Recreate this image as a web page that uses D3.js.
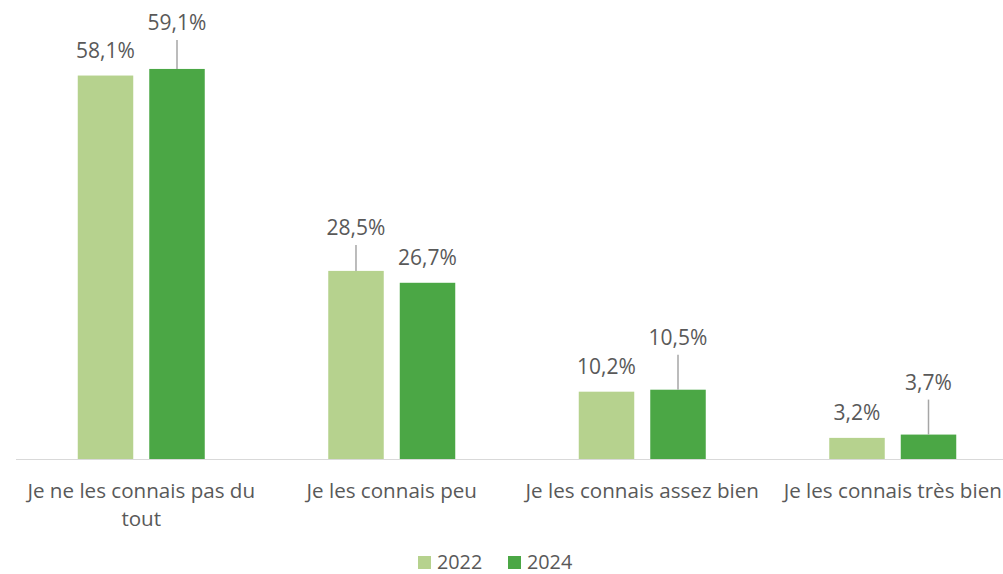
<!DOCTYPE html>
<html><head><meta charset="utf-8">
<script src="https://cdn.jsdelivr.net/npm/d3@7"></script>
<style>body{margin:0;background:#fff}svg{display:block}text{font-family:"Open Sans",sans-serif;fill:#595959}</style>
</head><body><svg id="c" width="1003" height="574"></svg>
<script>
const categories = ["Je ne les connais pas du tout","Je les connais peu","Je les connais assez bien","Je les connais très bien"];
const categoryLines = [["Je ne les connais pas du","tout"],["Je les connais peu"],["Je les connais assez bien"],["Je les connais très bien"]];
const seriesNames = ["2022","2024"];
const values2022 = [58.1, 28.5, 10.2, 3.2];
const values2024 = [59.1, 26.7, 10.5, 3.7];
const valueLabels2022 = ["58,1%","28,5%","10,2%","3,2%"];
const valueLabels2024 = ["59,1%","26,7%","10,5%","3,7%"];
// layout: label lift above bar top (null = plain label, number = leader line lift)
const leader2022 = [null, 36, null, null];
const leader2024 = [39, null, 45, 45];
const colors = ["#B6D28E","#4BA745"];

const svg = d3.select("#c");
const x0 = d3.scaleBand().domain(categories).range([16, 1018]);
const x1 = d3.scaleBand().domain(seriesNames).range([0, 127]).paddingInner(0.224);
const y = d3.scaleLinear().domain([0, 65]).range([459, 30]);
const groupOff = d => x0(d) + x0.bandwidth()/2 - 63.5;

const vals = [values2022, values2024];
const labs = [valueLabels2022, valueLabels2024];
const leads = [leader2022, leader2024];

seriesNames.forEach((s, si) => {
  categories.forEach((c, ci) => {
    const v = vals[si][ci];
    const bx = groupOff(c) + x1(s);
    const bw = x1.bandwidth();
    svg.append("rect").attr("x", bx).attr("y", y(v)).attr("width", bw).attr("height", y(0) - y(v)).attr("fill", colors[si]);
    const cx = bx + bw/2;
    const lead = leads[si][ci];
    if (lead == null) {
      svg.append("text").attr("x", cx).attr("y", y(v) - 17.5).attr("text-anchor","middle").attr("font-size", 21).text(labs[si][ci]);
    } else {
      svg.append("line").attr("x1", cx).attr("x2", cx).attr("y1", y(v)).attr("y2", y(v) - lead + 10).attr("stroke","#a6a6a6").attr("stroke-width",1.5);
      svg.append("text").attr("x", cx).attr("y", y(v) - lead).attr("text-anchor","middle").attr("font-size", 21).text(labs[si][ci]);
    }
  });
});

svg.append("line").attr("x1", 16).attr("x2", 1003).attr("y1", y(0)+0.5).attr("y2", y(0)+0.5).attr("stroke","#d9d9d9").attr("stroke-width",1);

categories.forEach((c, ci) => {
  const t = svg.append("text").attr("x", x0(c) + x0.bandwidth()/2).attr("y", 498).attr("text-anchor","middle").attr("font-size", 20.6);
  categoryLines[ci].forEach((ln, li) => {
    t.append("tspan").attr("x", x0(c) + x0.bandwidth()/2).attr("dy", li === 0 ? 0 : 28).text(ln);
  });
});

const leg = svg.append("g");
const legX = [418, 508];
seriesNames.forEach((s, si) => {
  leg.append("rect").attr("x", legX[si]).attr("y", 556).attr("width", 13).attr("height", 13).attr("fill", colors[si]);
  leg.append("text").attr("x", legX[si] + 19).attr("y", 569).attr("font-size", 19.8).text(s);
});
</script></body></html>
